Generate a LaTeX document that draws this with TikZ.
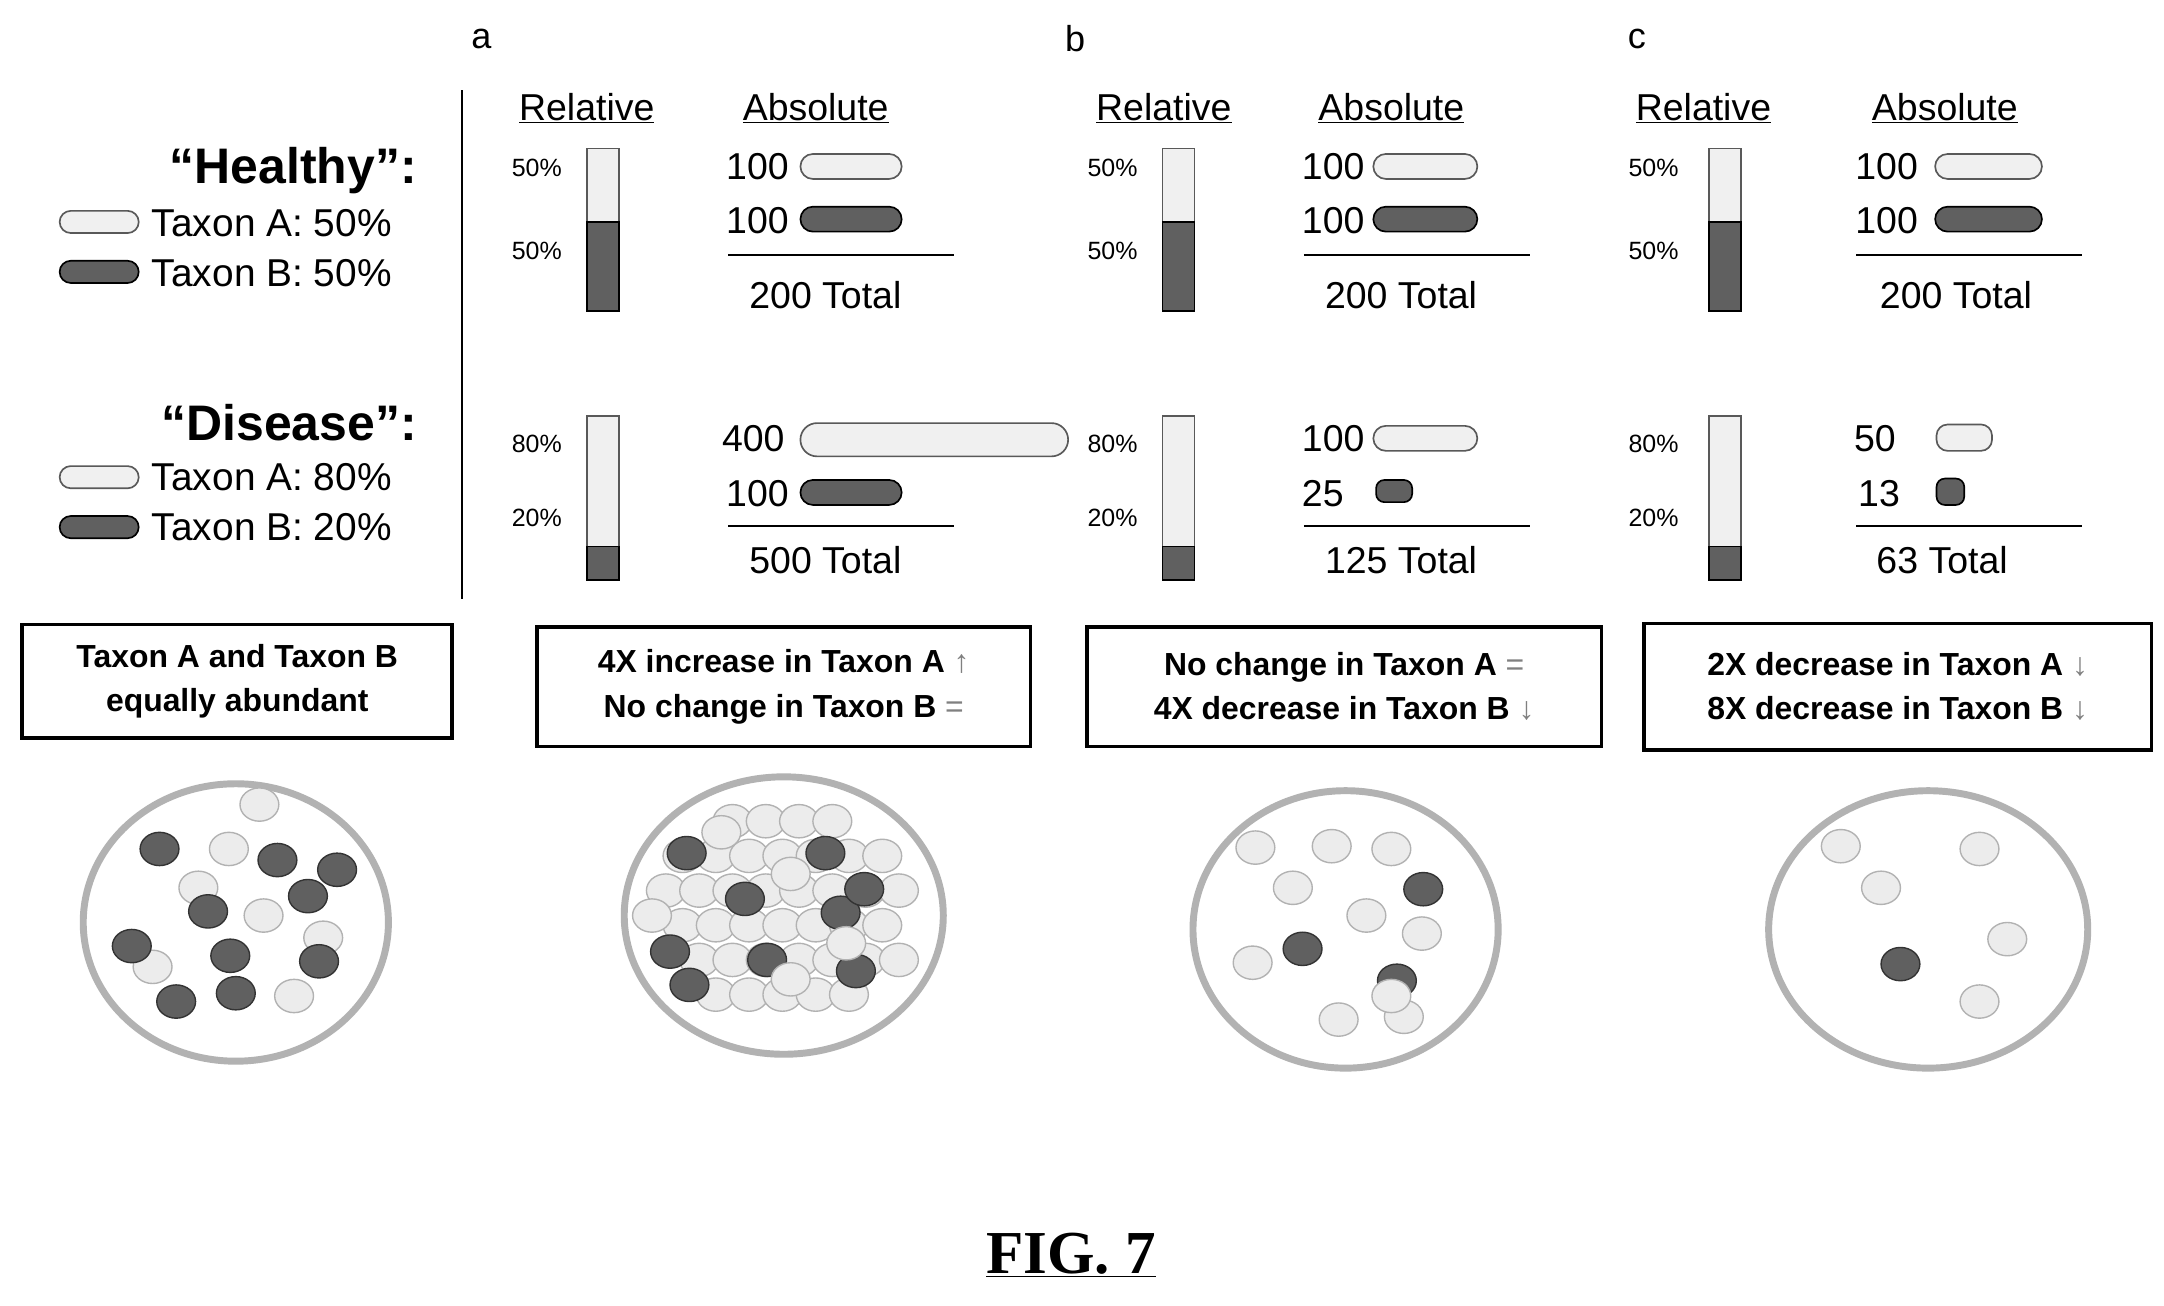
\documentclass[tikz,border=0pt]{standalone}
\usepackage{fontspec}
\setmainfont{Liberation Sans}
\newfontfamily\symf{DejaVu Sans}
\newfontfamily\serf{Liberation Serif}
\begin{document}
\begin{tikzpicture}[x=1pt,y=-1pt,
 lt/.style={fill=gray!12,draw=gray!70!black,line width=1.2},
 dk/.style={fill=gray!75!black,draw=black,line width=1.2},
 hd/.style={font=\fontsize{27}{30}\selectfont},
 num/.style={font=\fontsize{27}{30}\selectfont},
 pct/.style={font=\fontsize{18}{22}\selectfont},
 big/.style={font=\bfseries\fontsize{36}{40}\selectfont},
 leg/.style={font=\fontsize{28}{30}\selectfont,anchor=west},
 bx/.style={draw,line width=2.5,align=center,inner sep=2pt,font=\bfseries\fontsize{23}{32}\selectfont},
 dish/.style={draw=gray!60,line width=5,fill=white},
 cl/.style={fill=gray!15,draw=gray!60,line width=1},
 cd/.style={fill=gray!75!black,draw=gray!40!black,line width=1}]
\useasboundingbox (0,0) rectangle (1560,941);
\fill[white] (0,0) rectangle (1560,941);
% letters
\node[font=\fontsize{26}{28}\selectfont] (la) at (347,28) {a};
\node[font=\fontsize{26}{28}\selectfont] (lb) at (775,28) {b};
\node[font=\fontsize{26}{28}\selectfont] (lc) at (1180,28) {c};
\draw[line width=2] (333,65) -- (333,432);
% legend
\node[big,anchor=east] (hh) at (304,123) {“Healthy”:};
\draw[lt,rounded corners=8] (43,152) rectangle (100,168);
\node[leg] (ha) at (106,161) {Taxon A: 50\%};
\draw[dk,rounded corners=8] (43,188) rectangle (100,204);
\node[leg] (hb) at (106,197) {Taxon B: 50\%};
\node[big,anchor=east] (dd) at (304,305) {“Disease”:};
\draw[lt,rounded corners=8] (43,336) rectangle (100,352);
\node[leg] (da) at (106,344) {Taxon A: 80\%};
\draw[dk,rounded corners=8] (43,372) rectangle (100,388);
\node[leg] (db) at (106,380) {Taxon B: 20\%};
% panels
\foreach \bx/\lx/\nx/\tx/\ax/\rx in {423/387/525/595/588/423, 838/802/940/1010/1003/839, 1232/1192/1338/1410/1402/1228}{
  \node[hd] at (\rx,78) {\underline{Relative}};
  \node[hd] at (\ax,78) {\underline{Absolute}};
  \draw[lt] (\bx,107) rectangle (\bx+23,160);
  \draw[dk] (\bx,160) rectangle (\bx+23,224);
  \node[pct] at (\lx,121) {50\%};
  \node[pct] at (\lx,181) {50\%};
  \draw[line width=1.2] (\nx,184) -- (\nx+163,184);
  \node[num] at (\tx,213) {200 Total};
  \draw[lt] (\bx,300) rectangle (\bx+23,394);
  \draw[dk] (\bx,394) rectangle (\bx+23,418);
  \node[pct] at (\lx,320) {80\%};
  \node[pct] at (\lx,373) {20\%};
  \draw[line width=1.2] (\nx,379) -- (\nx+163,379);
}
% panel a absolute
\node[num,anchor=west] at (520,120) {100};
\draw[lt,rounded corners=9] (577,111) rectangle (650,129);
\node[num,anchor=west] at (520,159) {100};
\draw[dk,rounded corners=9] (577,149) rectangle (650,167);
\node[num,anchor=west] at (517,316) {400};
\draw[lt,rounded corners=12] (577,305) rectangle (770,329);
\node[num,anchor=west] at (520,356) {100};
\draw[dk,rounded corners=9] (577,346) rectangle (650,364);
\node[num] at (595,404) {500 Total};
% panel b
\node[num,anchor=west] at (935,120) {100};
\draw[lt,rounded corners=9] (990,111) rectangle (1065,129);
\node[num,anchor=west] at (935,159) {100};
\draw[dk,rounded corners=9] (990,149) rectangle (1065,167);
\node[num,anchor=west] at (935,316) {100};
\draw[lt,rounded corners=9] (990,307) rectangle (1065,325);
\node[num,anchor=west] at (935,356) {25};
\draw[dk,rounded corners=6] (992,346) rectangle (1018,362);
\node[num] at (1010,404) {125 Total};
% panel c
\node[num,anchor=west] at (1334,120) {100};
\draw[lt,rounded corners=9] (1395,111) rectangle (1472,129);
\node[num,anchor=west] at (1334,159) {100};
\draw[dk,rounded corners=9] (1395,149) rectangle (1472,167);
\node[num,anchor=west] at (1333,316) {50};
\draw[lt,rounded corners=8] (1396,306) rectangle (1436,325);
\node[num,anchor=west] at (1336,356) {13};
\draw[dk,rounded corners=6] (1396,345) rectangle (1416,364);
\node[num] at (1400,404) {63 Total};
% boxes
\node[bx,minimum width=310,minimum height=82] (b1) at (171,491) {Taxon A and Taxon B\\equally abundant};
\node[bx,minimum width=356,minimum height=86] (b2) at (565,495) {4X increase in Taxon A {\symf\color{gray}\normalfont↑}\\No change in Taxon B {\color{gray}\normalfont =}};
\node[bx,minimum width=371,minimum height=86] (b3) at (969,495) {No change in Taxon A {\color{gray}\normalfont =}\\4X decrease in Taxon B {\symf\color{gray}\normalfont↓}};
\node[bx,minimum width=366,minimum height=91] (b4) at (1368,495) {2X decrease in Taxon A {\symf\color{gray}\normalfont↓}\\8X decrease in Taxon B {\symf\color{gray}\normalfont↓}};
% dishes
\draw[dish] (170,665) ellipse (110 and 100);
\draw[dish] (565,660) ellipse (115 and 100);
\draw[dish] (970,670) ellipse (110 and 100);
\draw[dish] (1390,670) ellipse (115 and 100);
% dish 1
\foreach \p in {(187,580),(165,612),(143,640),(190,660),(233,676),(110,697),(212,718)} \draw[cl] \p ellipse (14 and 12);
\foreach \p in {(115,612),(200,620),(243,627),(222,646),(150,657),(95,682),(166,689),(230,693),(127,722),(170,716)} \draw[cd] \p ellipse (14 and 12);
% dish 2
\foreach \i in {0,...,7}{\foreach \j in {0,...,5}{
  \pgfmathsetmacro\xx{480+\i*24+mod(\j,2)*12}
  \pgfmathsetmacro\yy{592+\j*25}
  \pgfmathsetmacro\rr{((\xx-565)/92)^2+((\yy-660)/78)^2}
  \ifdim\rr pt<1pt \draw[cl] (\xx,\yy) ellipse (14 and 12);\fi}}
\foreach \p in {(495,615),(595,615),(537,648),(606,658),(623,641),(483,686),(553,692),(617,700),(497,710)} \draw[cd] \p ellipse (14 and 12);
\foreach \p in {(520,600),(570,630),(570,706),(610,680),(470,660)} \draw[cl] \p ellipse (14 and 12);
% dish 3
\foreach \p in {(905,611),(960,610),(1003,612),(932,640),(985,660),(1025,673),(903,694),(965,735),(1012,733)} \draw[cl] \p ellipse (14 and 12);
\foreach \p in {(1026,641),(939,684),(1007,707)} \draw[cd] \p ellipse (14 and 12);
\draw[cl] (1003,718) ellipse (14 and 12);
% dish 4
\foreach \p in {(1327,610),(1427,612),(1356,640),(1447,677),(1427,722)} \draw[cl] \p ellipse (14 and 12);
\draw[cd] (1370,695) ellipse (14 and 12);
% caption
\node[font=\serf\bfseries\fontsize{44}{50}\selectfont] (fig) at (772,905) {\underline{FIG. 7}};
\end{tikzpicture}
\end{document}
